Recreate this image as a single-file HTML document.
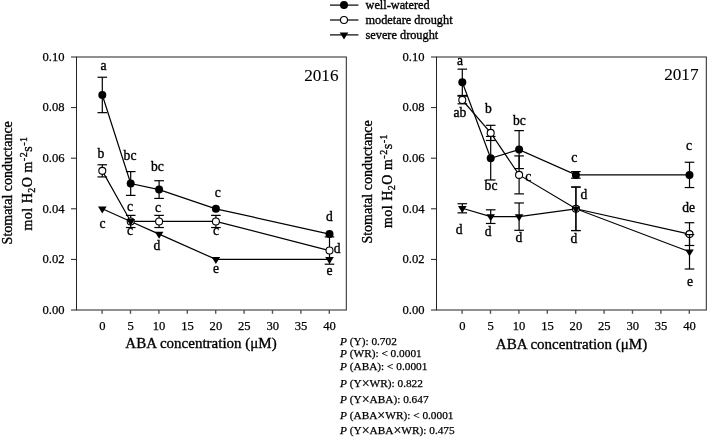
<!DOCTYPE html>
<html><head><meta charset="utf-8"><style>
html,body{margin:0;padding:0;background:#fff;width:708px;height:438px;overflow:hidden}
svg{display:block;will-change:transform}
text{font-family:"Liberation Serif", serif;fill:#000;stroke:#000;stroke-width:0.35px}
</style></head><body>
<svg width="708" height="438" viewBox="0 0 708 438">
<rect x="76.5" y="57" width="269.8" height="253" fill="none" stroke="#222" stroke-width="1.0"/>
<line x1="71.0" y1="310.0" x2="76.5" y2="310.0" stroke="#222" stroke-width="1.0"/>
<text x="64.5" y="313.7" text-anchor="end" font-size="12.6" style="stroke-width:0.25px">0.00</text>
<line x1="71.0" y1="259.4" x2="76.5" y2="259.4" stroke="#222" stroke-width="1.0"/>
<text x="64.5" y="263.09999999999997" text-anchor="end" font-size="12.6" style="stroke-width:0.25px">0.02</text>
<line x1="71.0" y1="208.8" x2="76.5" y2="208.8" stroke="#222" stroke-width="1.0"/>
<text x="64.5" y="212.5" text-anchor="end" font-size="12.6" style="stroke-width:0.25px">0.04</text>
<line x1="71.0" y1="158.20000000000002" x2="76.5" y2="158.20000000000002" stroke="#222" stroke-width="1.0"/>
<text x="64.5" y="161.9" text-anchor="end" font-size="12.6" style="stroke-width:0.25px">0.06</text>
<line x1="71.0" y1="107.6" x2="76.5" y2="107.6" stroke="#222" stroke-width="1.0"/>
<text x="64.5" y="111.3" text-anchor="end" font-size="12.6" style="stroke-width:0.25px">0.08</text>
<line x1="71.0" y1="57.0" x2="76.5" y2="57.0" stroke="#222" stroke-width="1.0"/>
<text x="64.5" y="60.7" text-anchor="end" font-size="12.6" style="stroke-width:0.25px">0.10</text>
<line x1="102.10" y1="310" x2="102.10" y2="313.8" stroke="#555" stroke-width="1.4"/>
<text x="102.3" y="330" text-anchor="middle" font-size="12.6" style="stroke-width:0.25px">0</text>
<line x1="130.50" y1="310" x2="130.50" y2="313.8" stroke="#555" stroke-width="1.4"/>
<text x="130.7" y="330" text-anchor="middle" font-size="12.6" style="stroke-width:0.25px">5</text>
<line x1="158.90" y1="310" x2="158.90" y2="313.8" stroke="#555" stroke-width="1.4"/>
<text x="159.1" y="330" text-anchor="middle" font-size="12.6" style="stroke-width:0.25px">10</text>
<line x1="187.30" y1="310" x2="187.30" y2="313.8" stroke="#555" stroke-width="1.4"/>
<text x="187.5" y="330" text-anchor="middle" font-size="12.6" style="stroke-width:0.25px">15</text>
<line x1="215.70" y1="310" x2="215.70" y2="313.8" stroke="#555" stroke-width="1.4"/>
<text x="215.89999999999998" y="330" text-anchor="middle" font-size="12.6" style="stroke-width:0.25px">20</text>
<line x1="244.10" y1="310" x2="244.10" y2="313.8" stroke="#555" stroke-width="1.4"/>
<text x="244.3" y="330" text-anchor="middle" font-size="12.6" style="stroke-width:0.25px">25</text>
<line x1="272.50" y1="310" x2="272.50" y2="313.8" stroke="#555" stroke-width="1.4"/>
<text x="272.7" y="330" text-anchor="middle" font-size="12.6" style="stroke-width:0.25px">30</text>
<line x1="300.90" y1="310" x2="300.90" y2="313.8" stroke="#555" stroke-width="1.4"/>
<text x="301.09999999999997" y="330" text-anchor="middle" font-size="12.6" style="stroke-width:0.25px">35</text>
<line x1="329.30" y1="310" x2="329.30" y2="313.8" stroke="#555" stroke-width="1.4"/>
<text x="329.5" y="330" text-anchor="middle" font-size="12.6" style="stroke-width:0.25px">40</text>
<text transform="translate(11.7,182.8) rotate(-90)" text-anchor="middle" font-size="14">Stomatal conductance</text>
<text transform="translate(31.8,183.5) rotate(-90)" text-anchor="middle" font-size="14" letter-spacing="0.5">mol H<tspan font-size="10" dy="3">2</tspan><tspan dy="-3">O m</tspan><tspan font-size="10" dy="-5">-2</tspan><tspan dy="5">s</tspan><tspan font-size="10" dy="-5">-1</tspan></text>
<text x="201" y="348.2" text-anchor="middle" font-size="15">ABA concentration (μM)</text>
<text x="338.5" y="80.6" text-anchor="end" font-size="17.2" style="stroke-width:0.1px">2016</text>
<polyline points="102.30,94.95 130.70,183.50 159.10,189.57 215.90,208.80 329.50,234.10" fill="none" stroke="#000" stroke-width="1.2"/>
<polyline points="102.30,170.85 130.70,221.45 159.10,221.45 215.90,221.45 329.50,250.55" fill="none" stroke="#000" stroke-width="1.2"/>
<polyline points="102.30,208.80 130.70,221.45 159.10,234.10 215.90,259.40 329.50,259.40" fill="none" stroke="#000" stroke-width="1.2"/>
<line x1="102.3" y1="77.23999999999998" x2="102.3" y2="112.66" stroke="#000" stroke-width="1.2"/>
<line x1="97.5" y1="77.23999999999998" x2="107.1" y2="77.23999999999998" stroke="#000" stroke-width="1.2"/>
<line x1="97.5" y1="112.66" x2="107.1" y2="112.66" stroke="#000" stroke-width="1.2"/>
<line x1="130.7" y1="171.60899999999998" x2="130.7" y2="195.39100000000002" stroke="#000" stroke-width="1.2"/>
<line x1="125.89999999999999" y1="171.60899999999998" x2="135.5" y2="171.60899999999998" stroke="#000" stroke-width="1.2"/>
<line x1="125.89999999999999" y1="195.39100000000002" x2="135.5" y2="195.39100000000002" stroke="#000" stroke-width="1.2"/>
<line x1="159.1" y1="180.71699999999998" x2="159.1" y2="198.427" stroke="#000" stroke-width="1.2"/>
<line x1="154.29999999999998" y1="180.71699999999998" x2="163.9" y2="180.71699999999998" stroke="#000" stroke-width="1.2"/>
<line x1="154.29999999999998" y1="198.427" x2="163.9" y2="198.427" stroke="#000" stroke-width="1.2"/>
<circle cx="102.30" cy="94.95" r="4" fill="#000"/>
<circle cx="130.70" cy="183.50" r="4" fill="#000"/>
<circle cx="159.10" cy="189.57" r="4" fill="#000"/>
<circle cx="215.90" cy="208.80" r="4" fill="#000"/>
<circle cx="329.50" cy="234.10" r="4" fill="#000"/>
<line x1="102.3" y1="164.778" x2="102.3" y2="176.922" stroke="#000" stroke-width="1.2"/>
<line x1="97.5" y1="164.778" x2="107.1" y2="164.778" stroke="#000" stroke-width="1.2"/>
<line x1="97.5" y1="176.922" x2="107.1" y2="176.922" stroke="#000" stroke-width="1.2"/>
<line x1="130.7" y1="215.378" x2="130.7" y2="227.522" stroke="#000" stroke-width="1.2"/>
<line x1="125.89999999999999" y1="215.378" x2="135.5" y2="215.378" stroke="#000" stroke-width="1.2"/>
<line x1="125.89999999999999" y1="227.522" x2="135.5" y2="227.522" stroke="#000" stroke-width="1.2"/>
<line x1="159.1" y1="215.378" x2="159.1" y2="227.522" stroke="#000" stroke-width="1.2"/>
<line x1="154.29999999999998" y1="215.378" x2="163.9" y2="215.378" stroke="#000" stroke-width="1.2"/>
<line x1="154.29999999999998" y1="227.522" x2="163.9" y2="227.522" stroke="#000" stroke-width="1.2"/>
<line x1="215.89999999999998" y1="215.378" x2="215.89999999999998" y2="227.522" stroke="#000" stroke-width="1.2"/>
<line x1="211.09999999999997" y1="215.378" x2="220.7" y2="215.378" stroke="#000" stroke-width="1.2"/>
<line x1="211.09999999999997" y1="227.522" x2="220.7" y2="227.522" stroke="#000" stroke-width="1.2"/>
<line x1="329.5" y1="236.88299999999998" x2="329.5" y2="264.207" stroke="#000" stroke-width="1.2"/>
<line x1="324.7" y1="236.88299999999998" x2="334.3" y2="236.88299999999998" stroke="#000" stroke-width="1.2"/>
<line x1="324.7" y1="264.207" x2="334.3" y2="264.207" stroke="#000" stroke-width="1.2"/>
<circle cx="102.30" cy="170.85" r="3.5" fill="#fff" stroke="#000" stroke-width="1.1"/>
<circle cx="130.70" cy="221.45" r="3.5" fill="#fff" stroke="#000" stroke-width="1.1"/>
<circle cx="159.10" cy="221.45" r="3.5" fill="#fff" stroke="#000" stroke-width="1.1"/>
<circle cx="215.90" cy="221.45" r="3.5" fill="#fff" stroke="#000" stroke-width="1.1"/>
<circle cx="329.50" cy="250.55" r="3.5" fill="#fff" stroke="#000" stroke-width="1.1"/>
<path d="M98.00,206.40 L106.60,206.40 L102.30,213.40 Z" fill="#000"/>
<path d="M126.40,219.05 L135.00,219.05 L130.70,226.05 Z" fill="#000"/>
<path d="M154.80,231.70 L163.40,231.70 L159.10,238.70 Z" fill="#000"/>
<path d="M211.60,257.00 L220.20,257.00 L215.90,264.00 Z" fill="#000"/>
<path d="M325.20,257.00 L333.80,257.00 L329.50,264.00 Z" fill="#000"/>
<text x="103.6" y="70.30" text-anchor="middle" font-size="13.6">a</text>
<text x="101" y="157.80" text-anchor="middle" font-size="13.6">b</text>
<text x="130" y="159.80" text-anchor="middle" font-size="13.6">bc</text>
<text x="157.4" y="171.10" text-anchor="middle" font-size="13.6">bc</text>
<text x="102.4" y="228.30" text-anchor="middle" font-size="13.6">c</text>
<text x="129.9" y="210.80" text-anchor="middle" font-size="13.6">c</text>
<text x="130" y="234.80" text-anchor="middle" font-size="13.6">c</text>
<text x="158" y="211.80" text-anchor="middle" font-size="13.6">c</text>
<text x="156.9" y="249.50" text-anchor="middle" font-size="13.6">d</text>
<text x="217.7" y="197.40" text-anchor="middle" font-size="13.6">c</text>
<text x="216.1" y="235.40" text-anchor="middle" font-size="13.6">c</text>
<text x="216.1" y="272.80" text-anchor="middle" font-size="13.6">e</text>
<text x="329.4" y="220.50" text-anchor="middle" font-size="13.6">d</text>
<text x="337.1" y="252.50" text-anchor="middle" font-size="13.6">d</text>
<text x="329.5" y="275.40" text-anchor="middle" font-size="13.6">e</text>
<rect x="436.5" y="57" width="269.79999999999995" height="253" fill="none" stroke="#222" stroke-width="1.0"/>
<line x1="431.0" y1="310.0" x2="436.5" y2="310.0" stroke="#222" stroke-width="1.0"/>
<text x="424.5" y="313.7" text-anchor="end" font-size="12.6" style="stroke-width:0.25px">0.00</text>
<line x1="431.0" y1="259.4" x2="436.5" y2="259.4" stroke="#222" stroke-width="1.0"/>
<text x="424.5" y="263.09999999999997" text-anchor="end" font-size="12.6" style="stroke-width:0.25px">0.02</text>
<line x1="431.0" y1="208.8" x2="436.5" y2="208.8" stroke="#222" stroke-width="1.0"/>
<text x="424.5" y="212.5" text-anchor="end" font-size="12.6" style="stroke-width:0.25px">0.04</text>
<line x1="431.0" y1="158.20000000000002" x2="436.5" y2="158.20000000000002" stroke="#222" stroke-width="1.0"/>
<text x="424.5" y="161.9" text-anchor="end" font-size="12.6" style="stroke-width:0.25px">0.06</text>
<line x1="431.0" y1="107.6" x2="436.5" y2="107.6" stroke="#222" stroke-width="1.0"/>
<text x="424.5" y="111.3" text-anchor="end" font-size="12.6" style="stroke-width:0.25px">0.08</text>
<line x1="431.0" y1="57.0" x2="436.5" y2="57.0" stroke="#222" stroke-width="1.0"/>
<text x="424.5" y="60.7" text-anchor="end" font-size="12.6" style="stroke-width:0.25px">0.10</text>
<line x1="462.10" y1="310" x2="462.10" y2="313.8" stroke="#555" stroke-width="1.4"/>
<text x="462.3" y="330" text-anchor="middle" font-size="12.6" style="stroke-width:0.25px">0</text>
<line x1="490.50" y1="310" x2="490.50" y2="313.8" stroke="#555" stroke-width="1.4"/>
<text x="490.7" y="330" text-anchor="middle" font-size="12.6" style="stroke-width:0.25px">5</text>
<line x1="518.90" y1="310" x2="518.90" y2="313.8" stroke="#555" stroke-width="1.4"/>
<text x="519.1" y="330" text-anchor="middle" font-size="12.6" style="stroke-width:0.25px">10</text>
<line x1="547.30" y1="310" x2="547.30" y2="313.8" stroke="#555" stroke-width="1.4"/>
<text x="547.5" y="330" text-anchor="middle" font-size="12.6" style="stroke-width:0.25px">15</text>
<line x1="575.70" y1="310" x2="575.70" y2="313.8" stroke="#555" stroke-width="1.4"/>
<text x="575.9" y="330" text-anchor="middle" font-size="12.6" style="stroke-width:0.25px">20</text>
<line x1="604.10" y1="310" x2="604.10" y2="313.8" stroke="#555" stroke-width="1.4"/>
<text x="604.3" y="330" text-anchor="middle" font-size="12.6" style="stroke-width:0.25px">25</text>
<line x1="632.50" y1="310" x2="632.50" y2="313.8" stroke="#555" stroke-width="1.4"/>
<text x="632.7" y="330" text-anchor="middle" font-size="12.6" style="stroke-width:0.25px">30</text>
<line x1="660.90" y1="310" x2="660.90" y2="313.8" stroke="#555" stroke-width="1.4"/>
<text x="661.0999999999999" y="330" text-anchor="middle" font-size="12.6" style="stroke-width:0.25px">35</text>
<line x1="689.30" y1="310" x2="689.30" y2="313.8" stroke="#555" stroke-width="1.4"/>
<text x="689.5" y="330" text-anchor="middle" font-size="12.6" style="stroke-width:0.25px">40</text>
<text transform="translate(371.7,182.0) rotate(-90)" text-anchor="middle" font-size="14">Stomatal conductance</text>
<text transform="translate(391.8,181.0) rotate(-90)" text-anchor="middle" font-size="14" letter-spacing="0.5">mol H<tspan font-size="10" dy="3">2</tspan><tspan dy="-3">O m</tspan><tspan font-size="10" dy="-5">-2</tspan><tspan dy="5">s</tspan><tspan font-size="10" dy="-5">-1</tspan></text>
<text x="571.5" y="349.4" text-anchor="middle" font-size="15">ABA concentration (μM)</text>
<text x="698.5" y="80.2" text-anchor="end" font-size="17.2" style="stroke-width:0.1px">2017</text>
<polyline points="462.30,82.30 490.70,158.20 519.10,149.60 575.90,174.90 689.50,174.90" fill="none" stroke="#000" stroke-width="1.2"/>
<polyline points="462.30,100.01 490.70,132.90 519.10,174.90 575.90,208.80 689.50,234.10" fill="none" stroke="#000" stroke-width="1.2"/>
<polyline points="462.30,208.29 490.70,216.64 519.10,216.64 575.90,208.80 689.50,251.81" fill="none" stroke="#000" stroke-width="1.2"/>
<line x1="462.3" y1="69.144" x2="462.3" y2="95.45599999999999" stroke="#000" stroke-width="1.2"/>
<line x1="457.5" y1="69.144" x2="467.1" y2="69.144" stroke="#000" stroke-width="1.2"/>
<line x1="457.5" y1="95.45599999999999" x2="467.1" y2="95.45599999999999" stroke="#000" stroke-width="1.2"/>
<line x1="490.7" y1="136.442" x2="490.7" y2="179.958" stroke="#000" stroke-width="1.2"/>
<line x1="485.9" y1="136.442" x2="495.5" y2="136.442" stroke="#000" stroke-width="1.2"/>
<line x1="485.9" y1="179.958" x2="495.5" y2="179.958" stroke="#000" stroke-width="1.2"/>
<line x1="519.1" y1="130.62300000000002" x2="519.1" y2="168.573" stroke="#000" stroke-width="1.2"/>
<line x1="514.3000000000001" y1="130.62300000000002" x2="523.9" y2="130.62300000000002" stroke="#000" stroke-width="1.2"/>
<line x1="514.3000000000001" y1="168.573" x2="523.9" y2="168.573" stroke="#000" stroke-width="1.2"/>
<line x1="575.9" y1="171.60899999999998" x2="575.9" y2="178.187" stroke="#000" stroke-width="1.2"/>
<line x1="571.1" y1="171.60899999999998" x2="580.6999999999999" y2="171.60899999999998" stroke="#000" stroke-width="1.2"/>
<line x1="571.1" y1="178.187" x2="580.6999999999999" y2="178.187" stroke="#000" stroke-width="1.2"/>
<line x1="689.5" y1="162.248" x2="689.5" y2="187.548" stroke="#000" stroke-width="1.2"/>
<line x1="684.7" y1="162.248" x2="694.3" y2="162.248" stroke="#000" stroke-width="1.2"/>
<line x1="684.7" y1="187.548" x2="694.3" y2="187.548" stroke="#000" stroke-width="1.2"/>
<circle cx="462.30" cy="82.30" r="4" fill="#000"/>
<circle cx="490.70" cy="158.20" r="4" fill="#000"/>
<circle cx="519.10" cy="149.60" r="4" fill="#000"/>
<circle cx="575.90" cy="174.90" r="4" fill="#000"/>
<circle cx="689.50" cy="174.90" r="4" fill="#000"/>
<line x1="462.3" y1="96.21499999999997" x2="462.3" y2="103.80499999999998" stroke="#000" stroke-width="1.2"/>
<line x1="457.5" y1="96.21499999999997" x2="467.1" y2="96.21499999999997" stroke="#000" stroke-width="1.2"/>
<line x1="457.5" y1="103.80499999999998" x2="467.1" y2="103.80499999999998" stroke="#000" stroke-width="1.2"/>
<line x1="490.7" y1="125.30999999999997" x2="490.7" y2="140.48999999999998" stroke="#000" stroke-width="1.2"/>
<line x1="485.9" y1="125.30999999999997" x2="495.5" y2="125.30999999999997" stroke="#000" stroke-width="1.2"/>
<line x1="485.9" y1="140.48999999999998" x2="495.5" y2="140.48999999999998" stroke="#000" stroke-width="1.2"/>
<line x1="519.1" y1="155.923" x2="519.1" y2="193.873" stroke="#000" stroke-width="1.2"/>
<line x1="514.3000000000001" y1="155.923" x2="523.9" y2="155.923" stroke="#000" stroke-width="1.2"/>
<line x1="514.3000000000001" y1="193.873" x2="523.9" y2="193.873" stroke="#000" stroke-width="1.2"/>
<line x1="575.9" y1="187.04199999999997" x2="575.9" y2="230.558" stroke="#000" stroke-width="1.2"/>
<line x1="571.1" y1="187.04199999999997" x2="580.6999999999999" y2="187.04199999999997" stroke="#000" stroke-width="1.2"/>
<line x1="571.1" y1="230.558" x2="580.6999999999999" y2="230.558" stroke="#000" stroke-width="1.2"/>
<line x1="689.5" y1="222.715" x2="689.5" y2="245.485" stroke="#000" stroke-width="1.2"/>
<line x1="684.7" y1="222.715" x2="694.3" y2="222.715" stroke="#000" stroke-width="1.2"/>
<line x1="684.7" y1="245.485" x2="694.3" y2="245.485" stroke="#000" stroke-width="1.2"/>
<circle cx="462.30" cy="100.01" r="3.5" fill="#fff" stroke="#000" stroke-width="1.1"/>
<circle cx="490.70" cy="132.90" r="3.5" fill="#fff" stroke="#000" stroke-width="1.1"/>
<circle cx="519.10" cy="174.90" r="3.5" fill="#fff" stroke="#000" stroke-width="1.1"/>
<circle cx="575.90" cy="208.80" r="3.5" fill="#fff" stroke="#000" stroke-width="1.1"/>
<circle cx="689.50" cy="234.10" r="3.5" fill="#fff" stroke="#000" stroke-width="1.1"/>
<line x1="462.3" y1="203.74" x2="462.3" y2="212.848" stroke="#000" stroke-width="1.2"/>
<line x1="457.5" y1="203.74" x2="467.1" y2="203.74" stroke="#000" stroke-width="1.2"/>
<line x1="457.5" y1="212.848" x2="467.1" y2="212.848" stroke="#000" stroke-width="1.2"/>
<line x1="490.7" y1="209.812" x2="490.7" y2="223.474" stroke="#000" stroke-width="1.2"/>
<line x1="485.9" y1="209.812" x2="495.5" y2="209.812" stroke="#000" stroke-width="1.2"/>
<line x1="485.9" y1="223.474" x2="495.5" y2="223.474" stroke="#000" stroke-width="1.2"/>
<line x1="519.1" y1="202.981" x2="519.1" y2="230.305" stroke="#000" stroke-width="1.2"/>
<line x1="514.3000000000001" y1="202.981" x2="523.9" y2="202.981" stroke="#000" stroke-width="1.2"/>
<line x1="514.3000000000001" y1="230.305" x2="523.9" y2="230.305" stroke="#000" stroke-width="1.2"/>
<line x1="575.9" y1="187.04199999999997" x2="575.9" y2="230.558" stroke="#000" stroke-width="1.2"/>
<line x1="571.1" y1="187.04199999999997" x2="580.6999999999999" y2="187.04199999999997" stroke="#000" stroke-width="1.2"/>
<line x1="571.1" y1="230.558" x2="580.6999999999999" y2="230.558" stroke="#000" stroke-width="1.2"/>
<line x1="689.5" y1="234.606" x2="689.5" y2="269.014" stroke="#000" stroke-width="1.2"/>
<line x1="684.7" y1="234.606" x2="694.3" y2="234.606" stroke="#000" stroke-width="1.2"/>
<line x1="684.7" y1="269.014" x2="694.3" y2="269.014" stroke="#000" stroke-width="1.2"/>
<path d="M458.00,205.89 L466.60,205.89 L462.30,212.89 Z" fill="#000"/>
<path d="M486.40,214.24 L495.00,214.24 L490.70,221.24 Z" fill="#000"/>
<path d="M514.80,214.24 L523.40,214.24 L519.10,221.24 Z" fill="#000"/>
<path d="M571.60,206.40 L580.20,206.40 L575.90,213.40 Z" fill="#000"/>
<path d="M685.20,249.41 L693.80,249.41 L689.50,256.41 Z" fill="#000"/>
<text x="460" y="64.80" text-anchor="middle" font-size="13.6">a</text>
<text x="459.8" y="117.00" text-anchor="middle" font-size="13.6">ab</text>
<text x="488.4" y="112.80" text-anchor="middle" font-size="13.6">b</text>
<text x="491" y="190.00" text-anchor="middle" font-size="13.6">bc</text>
<text x="519.3" y="124.80" text-anchor="middle" font-size="13.6">bc</text>
<text x="528.3" y="180.50" text-anchor="middle" font-size="13.6">c</text>
<text x="574.3" y="161.80" text-anchor="middle" font-size="13.6">c</text>
<text x="583.8" y="198.80" text-anchor="middle" font-size="13.6">d</text>
<text x="573.9" y="243.00" text-anchor="middle" font-size="13.6">d</text>
<text x="459.2" y="234.20" text-anchor="middle" font-size="13.6">d</text>
<text x="488.2" y="236.10" text-anchor="middle" font-size="13.6">d</text>
<text x="519" y="241.80" text-anchor="middle" font-size="13.6">d</text>
<text x="689" y="150.30" text-anchor="middle" font-size="13.6">c</text>
<text x="688.7" y="211.80" text-anchor="middle" font-size="13.6">de</text>
<text x="690" y="285.50" text-anchor="middle" font-size="13.6">e</text>
<line x1="330" y1="5.1" x2="358.4" y2="5.1" stroke="#000" stroke-width="1.2"/>
<circle cx="344" cy="5.1" r="4" fill="#000"/>
<text x="365.5" y="8.9" font-size="12.3">well-watered</text>
<line x1="330" y1="20" x2="358.4" y2="20" stroke="#000" stroke-width="1.2"/>
<circle cx="344" cy="20" r="3.5" fill="#fff" stroke="#000" stroke-width="1.1"/>
<text x="365.5" y="23.7" font-size="12.3">modetare drought</text>
<line x1="330" y1="34.9" x2="358.4" y2="34.9" stroke="#000" stroke-width="1.2"/>
<path d="M339.7,32.5 L348.3,32.5 L344,39.5 Z" fill="#000"/>
<text x="365.5" y="38.7" font-size="12.3">severe drought</text>
<text x="340" y="344.6" font-size="11.3" style="stroke-width:0.25px"><tspan font-style="italic">P</tspan> (Y): 0.702</text>
<text x="340" y="357" font-size="11.3" style="stroke-width:0.25px"><tspan font-style="italic">P</tspan> (WR): &lt; 0.0001</text>
<text x="340" y="370.3" font-size="11.3" style="stroke-width:0.25px"><tspan font-style="italic">P</tspan> (ABA): &lt; 0.0001</text>
<text x="340" y="387" font-size="11.3" style="stroke-width:0.25px"><tspan font-style="italic">P</tspan> (Y<tspan font-size="14" dy="0.9">×</tspan><tspan dy="-0.9">WR): 0.822</tspan></text>
<text x="340" y="403" font-size="11.3" style="stroke-width:0.25px"><tspan font-style="italic">P</tspan> (Y<tspan font-size="14" dy="0.9">×</tspan><tspan dy="-0.9">ABA): 0.647</tspan></text>
<text x="340" y="419.2" font-size="11.3" style="stroke-width:0.25px"><tspan font-style="italic">P</tspan> (ABA<tspan font-size="14" dy="0.9">×</tspan><tspan dy="-0.9">WR): &lt; 0.0001</tspan></text>
<text x="340" y="434.4" font-size="11.3" style="stroke-width:0.25px"><tspan font-style="italic">P</tspan> (Y<tspan font-size="14" dy="0.9">×</tspan><tspan dy="-0.9">ABA</tspan><tspan font-size="14" dy="0.9">×</tspan><tspan dy="-0.9">WR): 0.475</tspan></text>
</svg></body></html>
